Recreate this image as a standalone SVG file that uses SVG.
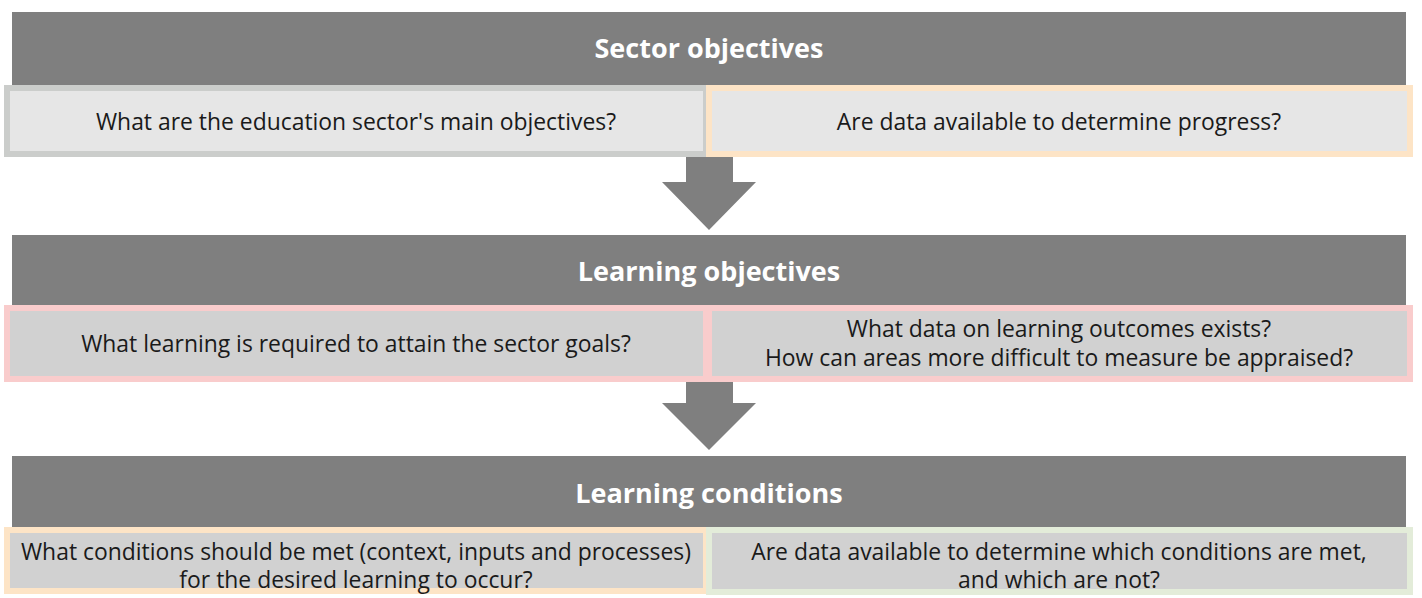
<svg xmlns="http://www.w3.org/2000/svg" width="1422" height="598" viewBox="0 0 1422 598">
  <style>
    .hdr { fill: #7f7f7f; }
    .hdr-text { font-family: "Open Sans", "Liberation Sans", sans-serif; font-weight: bold; font-size: 27px; fill: #ffffff; text-anchor: middle; dominant-baseline: central; }
    .q-text { font-family: "Open Sans", "Liberation Sans", sans-serif; font-size: 22.9px; fill: #1a1a1a; text-anchor: middle; dominant-baseline: central; }
    .box { stroke-width: 6; }
    .light { fill: #e6e6e6; }
    .mid { fill: #d1d1d1; }
    .b-gray { stroke: #cbcdcb; }
    .b-peach { stroke: #fde4c6; }
    .b-pink { stroke: #f9cccc; }
    .b-green { stroke: #e3ecd9; }
    .arrow { fill: #7f7f7f; }
  </style>

  <!-- Tier 1 -->
  <g id="sector-objectives">
    <rect class="hdr" x="12" y="12" width="1394" height="73"/>
    <text class="hdr-text" x="709" y="47">Sector objectives</text>
  </g>
  <g id="sector-main-objectives">
    <rect class="box light b-gray" x="7" y="88" width="699" height="66"/>
    <text class="q-text" x="356" y="121">What are the education sector's main objectives?</text>
  </g>
  <g id="sector-data">
    <rect class="box light b-peach" x="709" y="88" width="701" height="66"/>
    <text class="q-text" x="1059" y="121">Are data available to determine progress?</text>
  </g>

  <!-- Tier 2 -->
  <g id="learning-objectives">
    <rect class="hdr" x="12" y="235" width="1394" height="70"/>
    <text class="hdr-text" x="709" y="270">Learning objectives</text>
  </g>
  <g id="learning-required">
    <rect class="box mid b-pink" x="7" y="308" width="699" height="71"/>
    <text class="q-text" x="356" y="343">What learning is required to attain the sector goals?</text>
  </g>
  <g id="learning-data">
    <rect class="box mid b-pink" x="709" y="308" width="701" height="71"/>
    <text class="q-text" x="1059" y="328">What data on learning outcomes exists?</text>
    <text class="q-text" x="1059" y="357">How can areas more difficult to measure be appraised?</text>
  </g>

  <!-- Tier 3 -->
  <g id="learning-conditions">
    <rect class="hdr" x="12" y="456" width="1394" height="71"/>
    <text class="hdr-text" x="709" y="492">Learning conditions</text>
  </g>
  <g id="conditions-needed">
    <rect class="box mid b-peach" x="7" y="530" width="699" height="61"/>
    <text class="q-text" x="356" y="551">What conditions should be met (context, inputs and processes)</text>
    <text class="q-text" x="356" y="579">for the desired learning to occur?</text>
  </g>
  <g id="conditions-data">
    <rect class="box mid b-green" x="709" y="530" width="701" height="62"/>
    <text class="q-text" x="1059" y="551">Are data available to determine which conditions are met,</text>
    <text class="q-text" x="1059" y="579">and which are not?</text>
  </g>

  <!-- Block arrows between tiers -->
  <g id="connectors">
    <polygon class="arrow" points="686,157 733,157 733,182 756,182 709,230 662,182 686,182"/>
    <polygon class="arrow" points="686,382 733,382 733,403 756,403 709,450 662,403 686,403"/>
  </g>
</svg>
